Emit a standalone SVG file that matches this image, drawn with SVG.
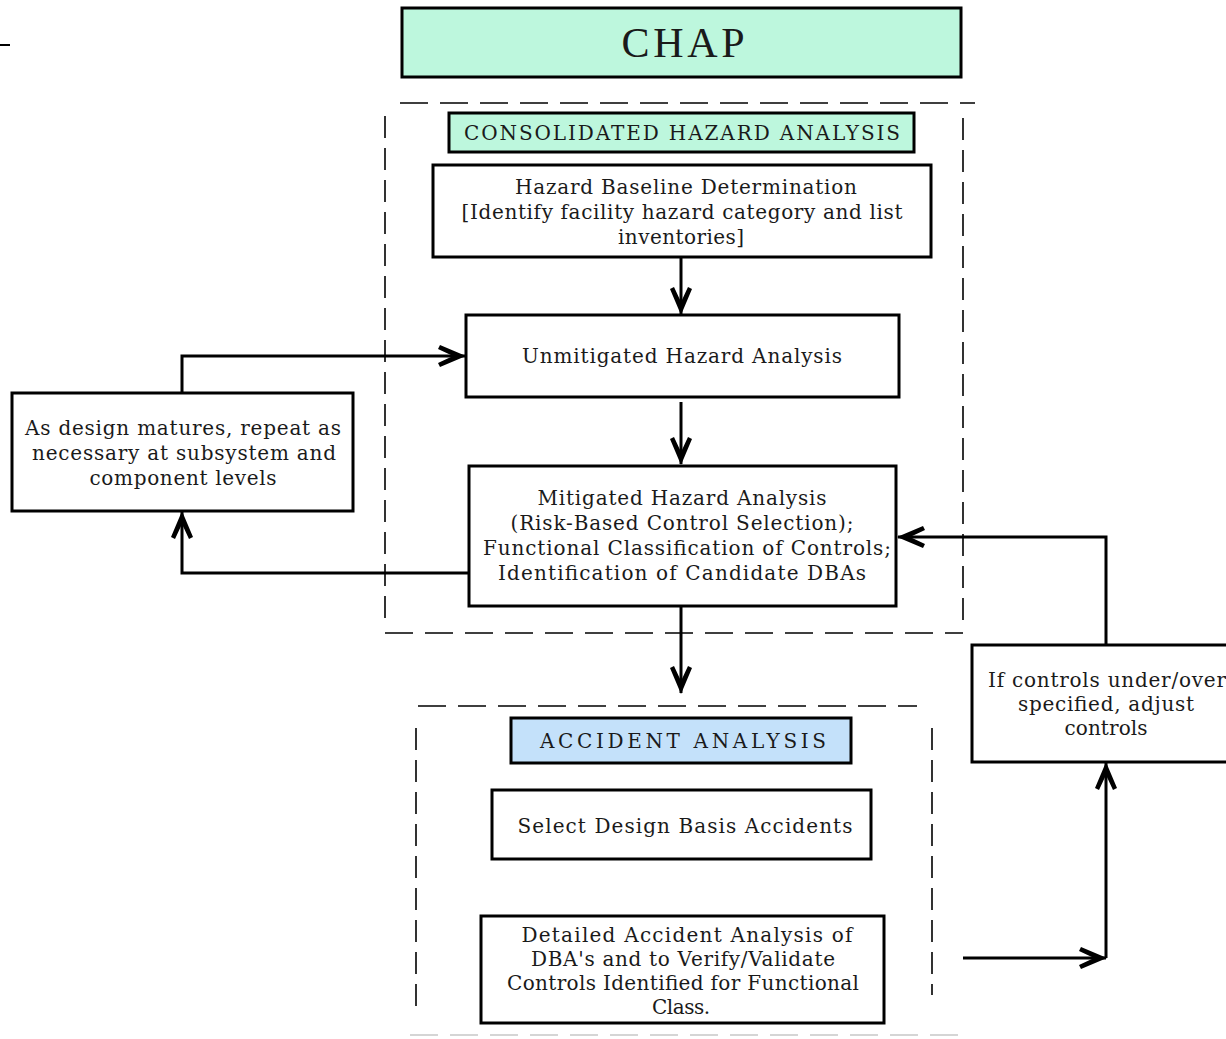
<svg xmlns="http://www.w3.org/2000/svg" width="1226" height="1039" viewBox="0 0 1226 1039">
<style>
.box{fill:#fff;stroke:#000;stroke-width:3}
.mint{fill:#bdf7dd;stroke:#000;stroke-width:3}
.blue{fill:#c4e1fa;stroke:#000;stroke-width:3}
.t{font-family:"DejaVu Serif","Liberation Serif",serif;font-size:20px;fill:#1a1a1a;text-anchor:middle}
.big{font-family:"Liberation Serif","DejaVu Serif",serif;font-size:42px;fill:#1a1a1a;text-anchor:middle}
.dh{stroke:#000;stroke-width:1.6;stroke-dasharray:28 12;fill:none}
.dv{stroke:#000;stroke-width:1.6;stroke-dasharray:22 10;fill:none}
.c{stroke:#000;stroke-width:3;fill:none}
</style>
<defs>
<marker id="ah" viewBox="-30 -12 32 24" refX="0" refY="0" markerWidth="32" markerHeight="24" markerUnits="userSpaceOnUse" orient="auto">
<path d="M1,0 L-25,-11 L-27,-7 L-12,0 L-27,7 L-25,11 Z" fill="#000"/>
</marker>
</defs>
<rect width="1226" height="1039" fill="#fff"/>
<line x1="0" y1="45" x2="10" y2="45" stroke="#000" stroke-width="2"/>

<g id="frame-consolidated">
<line class="dh" x1="400" y1="103" x2="975" y2="103"/>
<line class="dv" x1="385" y1="116" x2="385" y2="622"/>
<line class="dv" x1="963" y1="118" x2="963" y2="630"/>
<line class="dh" x1="385" y1="633" x2="963" y2="633"/>
</g>
<g id="frame-accident">
<line class="dh" x1="418" y1="706" x2="917" y2="706"/>
<line class="dv" x1="416" y1="728" x2="416" y2="1015"/>
<line class="dv" x1="932" y1="728" x2="932" y2="995"/>
<line class="dh" x1="410" y1="1035" x2="960" y2="1035" style="stroke:#c8c8c8"/>
</g>

<g id="connectors">
<line class="c" x1="681" y1="257" x2="681" y2="314" marker-end="url(#ah)"/>
<line class="c" x1="681" y1="402" x2="681" y2="464" marker-end="url(#ah)"/>
<line class="c" x1="681" y1="606" x2="681" y2="693" marker-end="url(#ah)"/>
<path class="c" d="M182,393 V356 H465" marker-end="url(#ah)"/>
<path class="c" d="M469,573 H182 V512" marker-end="url(#ah)"/>
<path class="c" d="M1106,645 V537 H898" marker-end="url(#ah)"/>
<path class="c" d="M963,958 H1106" marker-end="url(#ah)"/>
<path class="c" d="M1106,958 V763" marker-end="url(#ah)"/>
</g>

<g id="chap">
<rect class="mint" x="402" y="8" width="559" height="69"/>
<text class="big" x="683" y="57" textLength="123" lengthAdjust="spacing">CHAP</text>
</g>
<g id="consolidated-title">
<rect class="mint" x="449" y="113" width="465" height="39"/>
<text class="t" x="682" y="140" textLength="436" lengthAdjust="spacing">CONSOLIDATED HAZARD ANALYSIS</text>
</g>
<g id="hazard-baseline">
<rect class="box" x="433" y="165" width="498" height="92"/>
<text class="t" x="686" y="194" textLength="342" lengthAdjust="spacing">Hazard Baseline Determination</text>
<text class="t" x="682" y="219" textLength="441" lengthAdjust="spacing">[Identify facility hazard category and list</text>
<text class="t" x="681" y="244" textLength="126" lengthAdjust="spacing">inventories]</text>
</g>
<g id="unmitigated">
<rect class="box" x="466" y="315" width="433" height="82"/>
<text class="t" x="682" y="363" textLength="320" lengthAdjust="spacing">Unmitigated Hazard Analysis</text>
</g>
<g id="mitigated">
<rect class="box" x="469" y="466" width="427" height="140"/>
<text class="t" x="682" y="505" textLength="289" lengthAdjust="spacing">Mitigated Hazard Analysis</text>
<text class="t" x="682" y="530" textLength="343" lengthAdjust="spacing">(Risk-Based Control Selection);</text>
<text class="t" x="687" y="555" textLength="408" lengthAdjust="spacing">Functional Classification of Controls;</text>
<text class="t" x="682" y="580" textLength="368" lengthAdjust="spacing">Identification of Candidate DBAs</text>
</g>
<g id="repeat">
<rect class="box" x="12" y="393" width="341" height="118"/>
<text class="t" x="183" y="435" textLength="316" lengthAdjust="spacing">As design matures, repeat as</text>
<text class="t" x="184" y="460" textLength="304" lengthAdjust="spacing">necessary at subsystem and</text>
<text class="t" x="183" y="485" textLength="187" lengthAdjust="spacing">component levels</text>
</g>
<g id="adjust">
<rect class="box" x="972" y="645" width="270" height="117"/>
<text class="t" x="1107" y="687" textLength="238" lengthAdjust="spacing">If controls under/over</text>
<text class="t" x="1106" y="711" textLength="176" lengthAdjust="spacing">specified, adjust</text>
<text class="t" x="1106" y="735" textLength="83" lengthAdjust="spacing">controls</text>
</g>
<g id="accident-title">
<rect class="blue" x="511" y="718" width="340" height="45"/>
<text class="t" x="683" y="748" textLength="286" lengthAdjust="spacing">ACCIDENT ANALYSIS</text>
</g>
<g id="select-dba">
<rect class="box" x="492" y="790" width="379" height="69"/>
<text class="t" x="685" y="833" textLength="335" lengthAdjust="spacing">Select Design Basis Accidents</text>
</g>
<g id="detailed">
<rect class="box" x="481" y="916" width="403" height="107"/>
<text class="t" x="687" y="942" textLength="331" lengthAdjust="spacing">Detailed Accident Analysis of</text>
<text class="t" x="683" y="966" textLength="304" lengthAdjust="spacing">DBA's and to Verify/Validate</text>
<text class="t" x="683" y="990" textLength="352" lengthAdjust="spacing">Controls Identified for Functional</text>
<text class="t" x="681" y="1014" textLength="58" lengthAdjust="spacing">Class.</text>
</g>
</svg>
